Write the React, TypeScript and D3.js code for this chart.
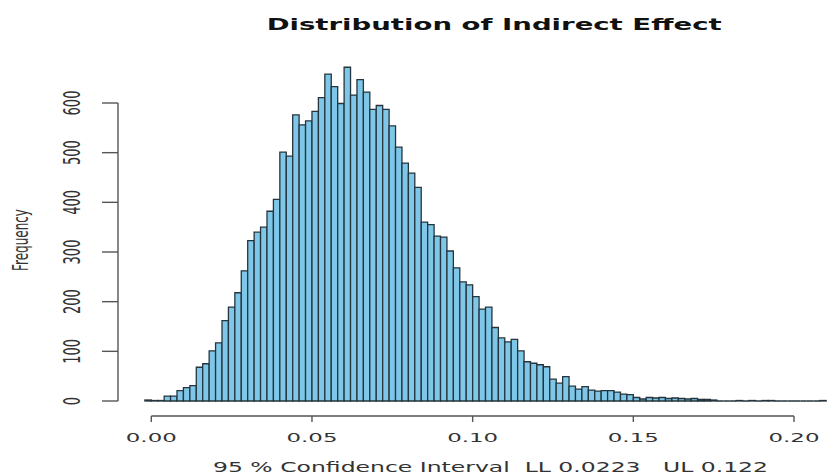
import React from "react";
import * as d3 from "d3";

const binStart = -0.002;
const binWidth = 0.002;
const counts = [
  2, 1, 1, 10, 10, 21, 27, 31, 68, 75,
  101, 117, 162, 189, 218, 262, 323, 340, 350, 382,
  406, 501, 493, 576, 556, 564, 583, 611, 658, 633,
  599, 672, 616, 647, 622, 587, 595, 587, 554, 511,
  479, 459, 430, 360, 355, 332, 330, 302, 268, 240,
  234, 210, 185, 189, 148, 127, 119, 124, 101, 79,
  76, 73, 69, 44, 36, 49, 30, 24, 29, 22,
  20, 21, 21, 18, 14, 13, 7, 4, 7, 6,
  7, 5, 6, 5, 4, 5, 3, 3, 2, 0,
  0, 0, 1, 0, 1, 0, 1, 1, 0, 0,
  0, 0, 0, 0, 0, 1,
];
const xTicks = [0, 0.05, 0.1, 0.15, 0.2];
const xTickLabels = ["0.00", "0.05", "0.10", "0.15", "0.20"];
const yTicks = [0, 100, 200, 300, 400, 500, 600];
const titleText = "Distribution of Indirect Effect";
const yTitle = "Frequency";
const subtitle = "95 % Confidence Interval  LL 0.0223   UL 0.122";

export default function App() {
  const W = 830;
  const H = 474;
  const x = d3.scaleLinear().domain([0, 0.2]).range([151.3, 794]);
  const y = d3.scaleLinear().domain([0, 600]).range([401, 103]);
  const sx = 1.7;
  const font = "DejaVu Sans, sans-serif";

  return (
    <svg
      width={W}
      height={H}
      style={{ position: "absolute", left: 0, top: 0, background: "#fff" }}
    >
      <rect x={0} y={0} width={W} height={H} fill="#fff" />
      {/* bars */}
      <g>
        {counts.map((c, i) => {
          const x0 = x(binStart + i * binWidth);
          const x1 = x(binStart + (i + 1) * binWidth);
          const y0 = y(0);
          const y1 = y(c);
          return (
            <path
              key={i}
              d={`M${x0},${y0}V${y1}H${x1}V${y0}Z`}
              fill="#7fc7e8"
              stroke="#26343d"
              strokeWidth={1.3}
            />
          );
        })}
      </g>
      {/* x axis */}
      <g stroke="#555" strokeWidth={1.4} fill="none">
        <line x1={x(0)} x2={x(0.2)} y1={416} y2={416} />
        {xTicks.map((t) => (
          <line key={t} x1={x(t)} x2={x(t)} y1={416} y2={422} />
        ))}
      </g>
      <g fontFamily={font} fontSize={13} fill="#333">
        {xTicks.map((t, i) => (
          <text
            key={t}
            x={x(t) - 25.5}
            y={441.5}
            textLength={51}
            lengthAdjust="spacingAndGlyphs"
          >
            {xTickLabels[i]}
          </text>
        ))}
      </g>
      {/* y axis */}
      <g stroke="#555" strokeWidth={1.4} fill="none">
        <line x1={118} x2={118} y1={y(0)} y2={y(600)} />
        {yTicks.map((t) => (
          <line key={t} x1={102} x2={118} y1={y(t)} y2={y(t)} />
        ))}
      </g>
      <g fontFamily={font} fontSize={13} fill="#333">
        {yTicks.map((t) => (
          <text
            key={t}
            transform={`translate(80,${y(t)}) scale(${sx},1) rotate(-90)`}
            textAnchor="middle"
          >
            {String(t)}
          </text>
        ))}
        <text
          transform={`translate(28,240) scale(${sx},1) rotate(-90)`}
          textAnchor="middle"
          fontSize={12}
        >
          {yTitle}
        </text>
      </g>
      {/* title */}
      <text
        x={266.7}
        y={30}
        fontFamily={font}
        fontWeight="bold"
        fontSize={15}
        fill="#111"
        textLength={455}
        lengthAdjust="spacingAndGlyphs"
      >
        {titleText}
      </text>
      {/* subtitle */}
      <text
        x={213}
        y={472}
        fontFamily={font}
        fontSize={13.5}
        fill="#333"
        textLength={555}
        lengthAdjust="spacingAndGlyphs"
        style={{ whiteSpace: "pre" }}
      >
        {subtitle}
      </text>
    </svg>
  );
}
